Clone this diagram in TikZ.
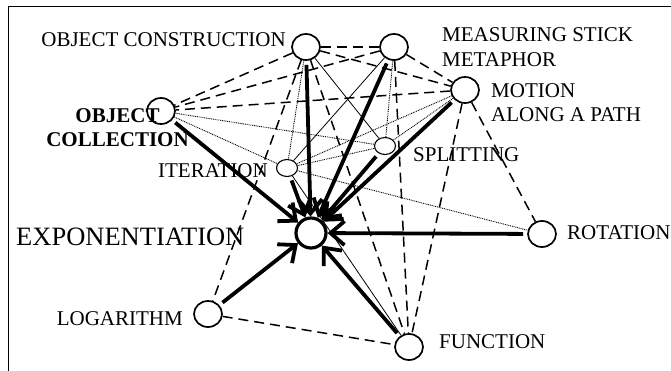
\documentclass[tikz,border=0pt]{standalone}
\usepackage{fontspec}
\setmainfont{Liberation Serif}
\usetikzlibrary{arrows.meta,shapes.geometric,positioning}

\begin{document}
\begin{tikzpicture}[x=1pt,y=-1pt,
  concept/.style={draw,ellipse,line width=1.7pt,inner sep=0pt,minimum width=28pt,minimum height=26pt},
  sub/.style={draw,ellipse,line width=1.1pt,inner sep=0pt,minimum width=21pt,minimum height=17pt},
  lbl/.style={inner sep=0pt,font=\fontsize{21}{25}\selectfont},
  link/.style={line width=1.5pt,dash pattern=on 10pt off 6pt},
  weak/.style={line width=0.9pt,dash pattern=on 0.9pt off 0.9pt},
  plain/.style={line width=0.8pt},
  into/.style={line width=3.8pt,-{Straight Barb[length=14pt,width=24pt]},shorten <=4pt}]
  \useasboundingbox (0,0) rectangle (671,371);
  \draw[line width=1pt] (8,7) rectangle (700,400);
  % the circles
  \node[draw,circle,line width=3.2pt,minimum size=30pt,inner sep=0pt] (exp) at (311,233) {};
  \node[concept] (oc)  at (306,47)  {};
  \node[concept] (ms)  at (394,47)  {};
  \node[concept] (mo)  at (465,90)  {};
  \node[concept] (ocl) at (161,111) {};
  \node[sub]     (it)  at (287,168) {};
  \node[sub]     (sp)  at (385,146) {};
  \node[concept] (rot) at (542,234) {};
  \node[concept] (log) at (208,314) {};
  \node[concept] (fun) at (409,347) {};
  % their names
  \node[lbl,font=\fontsize{26.5}{30}\selectfont,anchor=north west] (exp-t) at (16,228) {EXPONENTIATION};
  \node[lbl,anchor=north east] (oc-t) at (286,32) {OBJECT CONSTRUCTION};
  \node[lbl,align=left,anchor=north west] (ms-t) at (442,27) {MEASURING STICK\\METAPHOR};
  \node[lbl,align=left,anchor=north west,font=\fontsize{21}{24}\selectfont] (mo-t) at (491,83) {MOTION\\ALONG A PATH};
  \node[lbl,font=\bfseries\fontsize{21}{24}\selectfont,align=center,anchor=north] (ocl-t) at (117.5,108) {OBJECT\\COLLECTION};
  \node[lbl,anchor=north east] (it-t) at (268,163) {ITERATION};
  \node[lbl,anchor=north west] (sp-t) at (413,147) {SPLITTING};
  \node[lbl,anchor=north west] (rot-t) at (567,225) {ROTATION};
  \node[lbl,anchor=north east] (log-t) at (183,311) {LOGARITHM};
  \node[lbl,anchor=north west] (fun-t) at (439,334) {FUNCTION};
  % weak links
  \draw[weak] (oc) -- (it);
  \draw[weak] (ocl) -- (sp);
  \draw[weak] (ocl) -- (it);
  \draw[weak] (ms) -- (sp);
  \draw[weak] (mo) -- (it);
  \draw[weak] (mo) -- (sp);
  \draw[weak] (it) -- (sp);
  \draw[weak] (it) -- (rot);
  \draw[plain] (oc) -- (sp);
  \draw[plain] (ms) -- (it);
  \draw[plain] (it) -- (fun);
  % dashed links
  \draw[link] (oc) -- (ms);
  \draw[link] (oc) -- (ocl);
  \draw[link] (oc) -- (mo);
  \draw[link] (ms) -- (ocl);
  \draw[link] (mo) -- (ocl);
  \draw[link] (ms) -- (mo);
  \draw[link] (oc) -- (log);
  \draw[link] (oc) -- (fun);
  \draw[link] (ms) -- (fun);
  \draw[link] (mo) -- (fun);
  \draw[link] (mo) -- (rot);
  \draw[link] (log) -- (fun);
  % into exponentiation
  \draw[into] (ocl) -- (exp);
  \draw[into] (it) -- (exp);
  \draw[into] (oc) -- (exp);
  \draw[into] (ms) -- (exp);
  \draw[into] (sp) -- (exp);
  \draw[into] (mo) -- (exp);
  \draw[into] (rot) -- (exp);
  \draw[into] (log) -- (exp);
  \draw[into] (fun) -- (exp);
\end{tikzpicture}
\end{document}
